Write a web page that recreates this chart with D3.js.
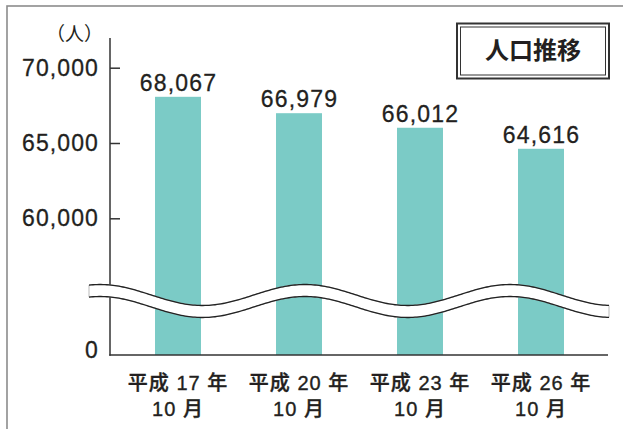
<!DOCTYPE html>
<html>
<head>
<meta charset="utf-8">
<script src="https://cdn.jsdelivr.net/npm/d3@7"></script>
<style>
  html, body { margin: 0; padding: 0; background: #fff; }
  svg { display: block; }
  text { fill: #231f20; font-family: "Liberation Sans", "Noto Sans CJK JP", sans-serif; }
</style>
</head>
<body>
<svg id="chart" width="623" height="429"></svg>
<script>
// ---- data ----
const labelLine1 = ["平成 17 年", "平成 20 年", "平成 23 年", "平成 26 年"];
const labelLine2 = ["10 月", "10 月", "10 月", "10 月"];
const values = [68067, 66979, 66012, 64616];
const yTickValues = [0, 60000, 65000, 70000];
const unitLabel = "（人）";
const titleText = "人口推移";

const svg = d3.select("#chart");
const fmt = d3.format(",");

// frame
svg.append("rect")
  .attr("x", 7).attr("y", 6).attr("width", 700).attr("height", 500)
  .attr("fill", "none").attr("stroke", "#8c8c8c").attr("stroke-width", 1.6);

// scales
const x = d3.scaleBand()
  .domain(labelLine1)
  .range([117.5, 601.5])
  .paddingInner(0.62)
  .paddingOuter(0.31);

// broken axis: piecewise linear scale
const y = d3.scaleLinear()
  .domain([0, 60000, 70000])
  .range([355, 218.3, 67.7]);

// bars
svg.append("g").selectAll("rect")
  .data(values)
  .join("rect")
  .attr("x", (d, i) => x(labelLine1[i]))
  .attr("width", x.bandwidth())
  .attr("y", d => y(d))
  .attr("height", d => y(0) - y(d))
  .attr("fill", "#7bcbc6");

// value labels
svg.append("g").selectAll("text")
  .data(values)
  .join("text")
  .attr("x", (d, i) => x(labelLine1[i]) + x.bandwidth() / 2 + 0.5)
  .attr("y", d => y(d) - 6)
  .attr("text-anchor", "middle")
  .style("font-size", "23px")
  .style("letter-spacing", "1.2px")
  .style("stroke", "#231f20").style("stroke-width", "0.3px")
  .text(d => fmt(d));

// y axis
const yAxis = d3.axisLeft(y)
  .tickValues(yTickValues)
  .tickSizeInner(-10)
  .tickSizeOuter(0)
  .tickPadding(11)
  .tickFormat(d => fmt(d));

const gy = svg.append("g").attr("transform", "translate(110,0)").call(yAxis);
gy.select(".domain").remove();
gy.selectAll(".tick line").attr("stroke", "#333").attr("stroke-width", 1.5)
  .attr("display", d => d === 0 ? "none" : null);
gy.selectAll(".tick text")
  .attr("fill", "#231f20")
  .style("font-family", "'Liberation Sans', sans-serif")
  .style("font-size", "23px")
  .style("letter-spacing", "1.1px")
  .style("stroke", "#231f20").style("stroke-width", "0.3px")
  .attr("dy", d => d === 0 ? "0.12em" : "0.33em");

// axis lines
svg.append("line").attr("x1", 110).attr("x2", 110).attr("y1", 38).attr("y2", 355.7)
  .attr("stroke", "#333").attr("stroke-width", 1.5);
svg.append("line").attr("x1", 109.3).attr("x2", 608).attr("y1", 355).attr("y2", 355)
  .attr("stroke", "#333").attr("stroke-width", 1.5);

// unit label
svg.append("text")
  .attr("x", 103).attr("y", 41)
  .attr("text-anchor", "end")
  .style("font-family", "'Noto Sans CJK JP', sans-serif")
  .style("font-size", "19px")
  .text(unitLabel);

// x labels
const xl = svg.append("g").selectAll("g")
  .data(labelLine1)
  .join("g")
  .attr("transform", d => `translate(${x(d) + x.bandwidth() / 2},0)`);
xl.append("text")
  .attr("y", 390)
  .attr("text-anchor", "middle")
  .style("font-size", "20px")
  .style("font-weight", "500")
  .style("letter-spacing", "1px")
  .style("stroke", "#231f20").style("stroke-width", "0.35px")
  .text(d => d);
xl.append("text")
  .attr("y", 416)
  .attr("text-anchor", "middle")
  .style("font-size", "20px")
  .style("font-weight", "500")
  .style("letter-spacing", "1px")
  .style("stroke", "#231f20").style("stroke-width", "0.35px")
  .text((d, i) => labelLine2[i]);

// wavy break band
const x0 = 89, x1 = 610, thick = 12;
const wave = xx => 295 - 10.5 * Math.cos(2 * Math.PI * (xx - 100) / 205);
const topPts = d3.range(x0, x1 + 0.1, 2).map(xx => [xx, wave(xx)]);
const botPts = topPts.map(p => [p[0], p[1] + thick]).reverse();
const line = d3.line();
svg.append("path")
  .attr("d", line(topPts.concat(botPts)) + "Z")
  .attr("fill", "#fff").attr("stroke", "#bbb").attr("stroke-width", 1);
svg.append("path").attr("d", line(topPts))
  .attr("fill", "none").attr("stroke", "#222").attr("stroke-width", 1.3);
svg.append("path").attr("d", line(botPts))
  .attr("fill", "none").attr("stroke", "#222").attr("stroke-width", 1.3);

// title box
const tb = { x: 457, y: 23.5, w: 152, h: 55 };
svg.append("rect").attr("x", tb.x).attr("y", tb.y).attr("width", tb.w).attr("height", tb.h)
  .attr("fill", "#fff").attr("stroke", "#333").attr("stroke-width", 2);
svg.append("rect").attr("x", tb.x + 3.5).attr("y", tb.y + 3.5).attr("width", tb.w - 7).attr("height", tb.h - 7)
  .attr("fill", "none").attr("stroke", "#333").attr("stroke-width", 1);
svg.append("text")
  .attr("x", tb.x + tb.w / 2).attr("y", 59)
  .attr("text-anchor", "middle")
  .style("font-family", "'Noto Sans CJK JP', sans-serif")
  .style("font-size", "24px")
  .style("font-weight", "700")
  .text(titleText);
</script>
</body>
</html>
